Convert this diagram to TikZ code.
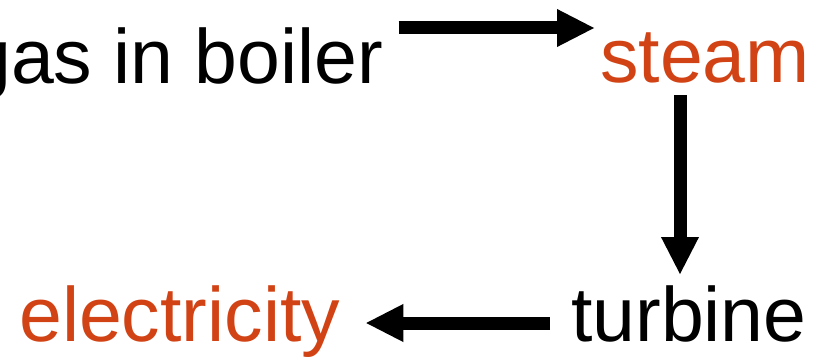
\documentclass[tikz,border=0pt]{standalone}
\usepackage{fontspec}
\setmainfont{Liberation Sans}
\usetikzlibrary{arrows.meta}
\definecolor{hotred}{RGB}{209,67,20}

\begin{document}
\begin{tikzpicture}[x=1pt,y=1pt,
    word/.style={inner sep=0pt, anchor=base west, font=\fontsize{77}{77}\selectfont},
    flow/.style={line width=13pt, -{Triangle[length=38pt,width=35pt]}}]
  \useasboundingbox (0,0) rectangle (815,357);

  % Nodes
  \node[word] (gas) at (-32,273) {gas in boiler};
  \node[word, text=hotred] (steam) at (600,274) {steam};
  \node[word] (turbine) at (571,16) {turbine};
  \node[word, text=hotred] (elec) at (19,16) {electricity};

  % Edges
  \draw[flow] ([xshift=15pt,yshift=56pt]gas.base east) -- ([xshift=-5pt,yshift=55pt]steam.base west);
  \draw[flow] ([xshift=80pt,yshift=-12pt]steam.base west) -- ([xshift=109pt,yshift=66pt]turbine.base west);
  \draw[flow] ([xshift=-21pt,yshift=18pt]turbine.base west) -- ([xshift=25pt,yshift=18pt]elec.base east);
\end{tikzpicture}
\end{document}
